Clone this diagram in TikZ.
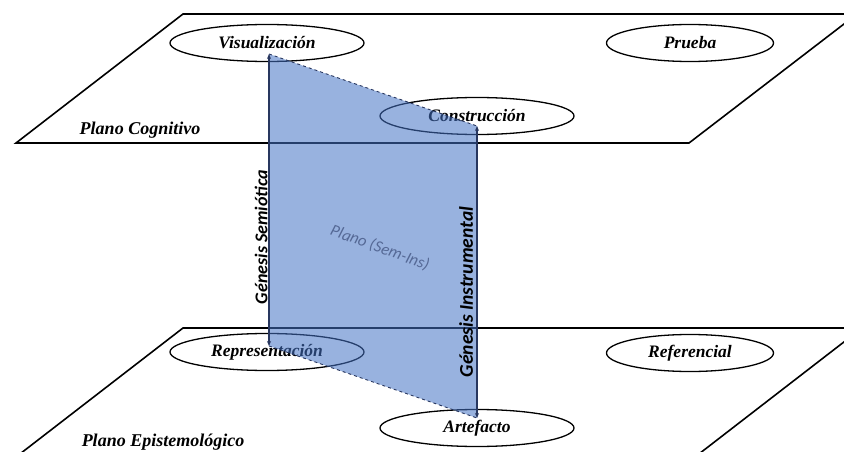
\documentclass[tikz,border=0pt]{standalone}
\usepackage{fontspec}
\setmainfont{Liberation Serif}
\newfontfamily\calfont{Carlito}
\usetikzlibrary{arrows.meta,shapes.geometric}
\definecolor{planeblue}{RGB}{68,114,196}
\definecolor{edgeblue}{RGB}{40,55,95}
\definecolor{semins}{RGB}{85,105,150}
\tikzset{
  planeline/.style={draw=black,line width=1.6pt,line join=miter},
  oval/.style={draw=black,line width=1.3pt,ellipse,minimum width=194pt,minimum height=37pt,inner sep=0pt,font=\fontsize{17.5}{19}\selectfont\bfseries\itshape},
  oval2/.style={oval,minimum width=167pt},
  planelabel/.style={font=\fontsize{18}{20}\selectfont\bfseries\itshape,inner sep=0pt},
  genlabel/.style={font=\calfont\bfseries\itshape,rotate=90,inner sep=0pt},
  genarrow/.style={draw=edgeblue,line width=1.3pt,{Stealth[length=5pt,width=4pt]}-{Stealth[length=5pt,width=4pt]}},
  dashedge/.style={draw=edgeblue,line width=0.9pt,dashed},
}
\begin{document}
\begin{tikzpicture}[x=1pt,y=-1pt]
\useasboundingbox (0,0) rectangle (844,452);
\clip (0,0) rectangle (844,452);
% planes
\draw[planeline] (16,143) -- (183,14) -- (857,14) -- (689,143) -- cycle;
\draw[planeline] (16,457) -- (183,328) -- (862,328) -- (695,457) -- cycle;
% ovals
\node[oval] (vis) at (267,43) {Visualizaci\'on};
\node[oval2] (pru) at (690,43) {Prueba};
\node[oval] (con) at (477,116) {Construcci\'on};
\node[oval] (rep) at (267,352) {Representaci\'on};
\node[oval2] (ref) at (690,353) {Referencial};
\node[oval] (art) at (477,428) {Artefacto};
% plane labels
\node[planelabel] (pcog) at (140,130) {Plano Cognitivo};
\node[planelabel] (pepi) at (163,442) {Plano Epistemol\'ogico};
% corners of the Sem-Ins plane
\coordinate (a) at (269,54);
\coordinate (b) at (477,126);
\coordinate (c) at (477,418);
\coordinate (d) at (269,346);
\fill[planeblue,opacity=0.55] (a) -- (b) -- (c) -- (d) -- cycle;
\draw[dashedge] (a) -- (b);
\draw[dashedge] (d) -- (c);
\draw[genarrow] (d) -- (a);
\draw[genarrow] (b) -- (c);
\node[genlabel,font=\calfont\fontsize{18}{20}\selectfont\bfseries\itshape] (gs) at (261,237) {G\'enesis Semi\'otica};
\node[genlabel,font=\calfont\fontsize{19.5}{21}\selectfont\bfseries\itshape] (gi) at (466,292) {G\'enesis Instrumental};
\node[font=\calfont\fontsize{16.5}{18}\selectfont\itshape,text=semins,rotate=-20,inner sep=0pt] (si) at (380,248) {Plano (Sem-Ins)};
\end{tikzpicture}
\end{document}
